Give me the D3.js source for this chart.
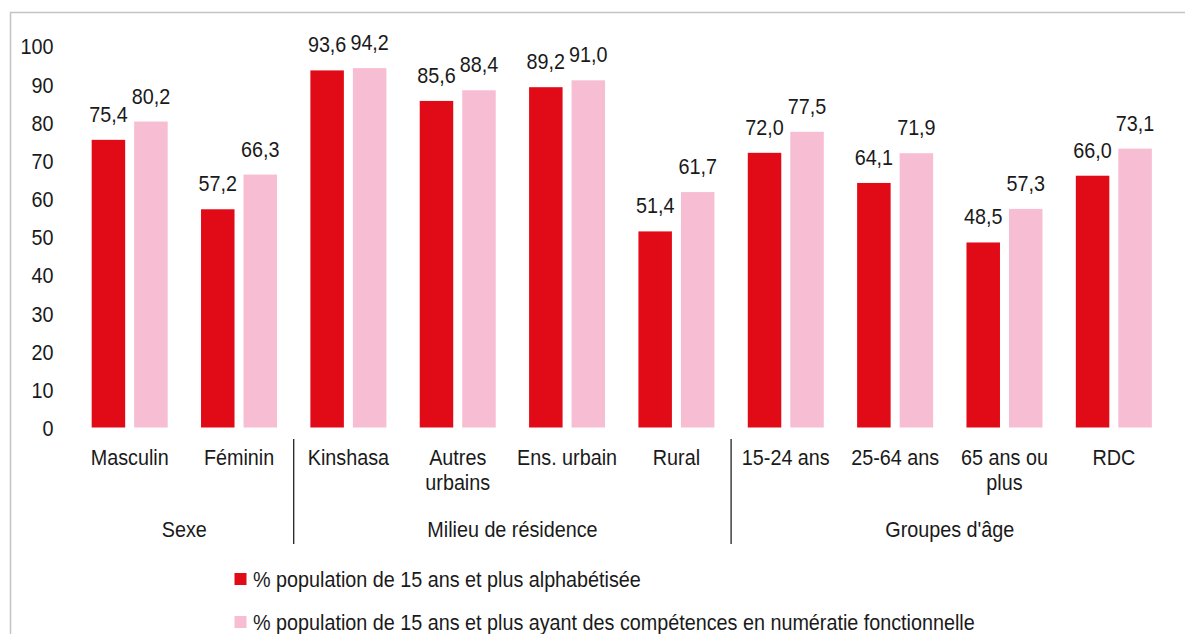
<!DOCTYPE html>
<html><head><meta charset="utf-8">
<script src="https://cdn.jsdelivr.net/npm/d3@7"></script>
<style>
html,body{margin:0;padding:0;background:#fff;}
svg{display:block;}
text{font-family:"Liberation Sans",Arial,sans-serif;fill:#1a1a1a;}
</style></head>
<body>
<script>
const categories = ["Masculin","Féminin","Kinshasa","Autres urbains","Ens. urbain","Rural","15-24 ans","25-64 ans","65 ans ou plus","RDC"];
const categoryLines = [["Masculin"],["Féminin"],["Kinshasa"],["Autres","urbains"],["Ens. urbain"],["Rural"],["15-24 ans"],["25-64 ans"],["65 ans ou","plus"],["RDC"]];
const groups = ["Sexe","Milieu de résidence","Groupes d'âge"];
const groupSpans = [[0,1],[2,5],[6,9]];
const seriesNames = ["% population de 15 ans et plus alphabétisée","% population de 15 ans et plus ayant des compétences en numératie fonctionnelle"];
const alphabetisee = [75.4,57.2,93.6,85.6,89.2,51.4,72.0,64.1,48.5,66.0];
const numeratie = [80.2,66.3,94.2,88.4,91.0,61.7,77.5,71.9,57.3,73.1];
const yTicks = [0,10,20,30,40,50,60,70,80,90,100];
const colors = ["#e00b17","#f7bdd3"];

const W = 1185, H = 634, SX = 0.875, FS = 22.6;
const svg = d3.select("body").append("svg").attr("width",W).attr("height",H);

// frame
svg.append("path").attr("d",`M10.5,${H} V12.5 H${W}`).attr("fill","none").attr("stroke","#c4c4c4").attr("stroke-width",1.5);

const x0 = d3.scaleBand().domain(categories).range([75,1168.5]).paddingInner(0.305).paddingOuter(0.1525);
const x1 = d3.scaleBand().domain([0,1]).range([0,x0.bandwidth()]).paddingInner(0.212);
const y = d3.scaleLinear().domain([0,100]).range([427.5,46]);
const fmt = v => d3.format(".1f")(v).replace(".",",");

function put(sel,x,yy){ return sel.attr("transform",`translate(${x},${yy}) scale(${SX},1)`).style("font-size",FS+"px"); }

// y tick labels
yTicks.forEach(t=>{
  put(svg.append("text").attr("text-anchor","end").attr("dominant-baseline","central").text(t),53.5,y(t)+0.5);
});

const series = [alphabetisee, numeratie];
series.forEach((vals,si)=>{
  const g = svg.append("g");
  categories.forEach((c,i)=>{
    const bx = x0(c)+x1(si);
    g.append("rect").attr("x",bx).attr("y",y(vals[i])).attr("width",x1.bandwidth()).attr("height",y(0)-y(vals[i])).attr("fill",colors[si]);
    put(g.append("text").attr("text-anchor","middle").text(fmt(vals[i])), bx+x1.bandwidth()/2, y(vals[i])-18);
  });
});

// category labels
categories.forEach((c,i)=>{
  const cx = x0(c)+x0.bandwidth()/2;
  categoryLines[i].forEach((ln,j)=>{
    put(svg.append("text").attr("text-anchor","middle").text(ln), cx, 465+j*25);
  });
});

// group labels and separators
const step = x0.step(), start = 75;
groupSpans.forEach((sp,gi)=>{
  const a = start + sp[0]*step, b = start + (sp[1]+1)*step;
  put(svg.append("text").attr("text-anchor","middle").text(groups[gi]), (a+b)/2, 536.5);
  if(gi>0){
    svg.append("line").attr("x1",a).attr("x2",a).attr("y1",439).attr("y2",544).attr("stroke","#222").attr("stroke-width",1.3);
  }
});

// legend
seriesNames.forEach((n,i)=>{
  const ly = 579 + i*43;
  svg.append("rect").attr("x",234.5).attr("y",ly-6).attr("width",12).attr("height",12).attr("fill",colors[i]);
  put(svg.append("text").attr("dominant-baseline","central").text(n), 253, ly+0.5);
});
</script>
</body></html>
